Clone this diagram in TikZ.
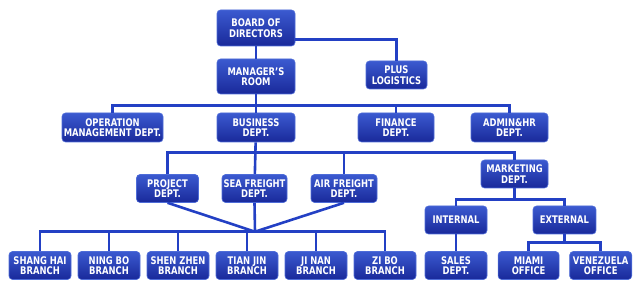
\documentclass[tikz,border=0pt]{standalone}
\usepackage{fontspec}
\setmainfont{DejaVu Sans}[FakeStretch=0.8]
\usetikzlibrary{positioning}
\definecolor{boxtop}{HTML}{3B5AD0}
\definecolor{boxbot}{HTML}{19299A}
\definecolor{boxedge}{HTML}{4E6CD8}
\definecolor{wire}{HTML}{2340C4}
\begin{document}
\begin{tikzpicture}[x=1pt, y=-1pt,
  unit/.style={draw=boxedge, line width=0.6pt, rounded corners=3.5pt, top color=boxtop, bottom color=boxbot,
    text=white, font=\fontsize{10.5}{10.5}\selectfont\bfseries, align=center, inner sep=0.5pt,
    minimum height=28pt, minimum width=62pt},
  ln/.style={draw=wire, line width=2.6pt}
]
\useasboundingbox (0,0) rectangle (640,288);
\node[unit, minimum width=78pt, minimum height=36pt] (board) at (256,28) {BOARD OF\\DIRECTORS};
\node[unit, minimum width=78pt, minimum height=35pt] (mgr) at (256,76.5) {MANAGER'S\\ROOM};
\node[unit, minimum width=61pt] (plus) at (396.5,75) {PLUS\\LOGISTICS};
\node[unit, minimum width=101pt, minimum height=29pt] (oper) at (112.5,127.5) {OPERATION\\MANAGEMENT DEPT.};
\node[unit, minimum width=78pt, minimum height=29pt] (biz) at (256,127.5) {BUSINESS\\DEPT.};
\node[unit, minimum width=76pt, minimum height=29pt] (fin) at (396,127.5) {FINANCE\\DEPT.};
\node[unit, minimum width=77pt, minimum height=29pt] (admin) at (509.5,127.5) {ADMIN\&HR\\DEPT.};
\node[unit] (proj) at (167.5,188.5) {PROJECT\\DEPT.};
\node[unit, minimum width=65pt] (sea) at (254.5,188.5) {SEA FREIGHT\\DEPT.};
\node[unit, minimum width=66pt] (air) at (344,188.5) {AIR FREIGHT\\DEPT.};
\node[unit, minimum width=67pt] (mkt) at (514.5,174) {MARKETING\\DEPT.};
\node[unit] (int) at (456,220) {INTERNAL};
\node[unit, minimum width=63pt] (ext) at (564.5,220) {EXTERNAL};
\node[unit] (shanghai) at (40,265.5) {SHANG HAI\\BRANCH};
\node[unit, right=6.4pt of shanghai] (ningbo) {NING BO\\BRANCH};
\node[unit, right=6.4pt of ningbo] (shenzhen) {SHEN ZHEN\\BRANCH};
\node[unit, right=6.4pt of shenzhen] (tianjin) {TIAN JIN\\BRANCH};
\node[unit, right=6.4pt of tianjin] (jinan) {JI NAN\\BRANCH};
\node[unit, right=6.4pt of jinan] (zibo) {ZI BO\\BRANCH};
\node[unit] (sales) at (456,265.5) {SALES\\DEPT.};
\node[unit, minimum width=61pt, right=10.5pt of sales] (miami) {MIAMI\\OFFICE};
\node[unit, right=10pt of miami] (venez) {VENEZUELA\\OFFICE};

\coordinate (bus1) at (256,105.3);
\coordinate (bus2) at (256,152.7);
\coordinate (hub) at (255,231.7);
\coordinate (bus3) at (516,199.3);
\coordinate (bus4) at (565,242.7);

\draw[ln] (board) -- (mgr);
\draw[ln] ([yshift=7pt]board.south east) -| (plus.north);
\draw[ln] (mgr) -- (biz);
\draw[ln] (oper.north) |- (bus1) -| (admin.north);
\draw[ln] (fin.north) -- (fin.north |- bus1);
\draw[ln] (biz) -- (sea);
\draw[ln] (proj.north) |- (bus2) -| (mkt.north);
\draw[ln] (air.north) -- (air.north |- bus2);
\draw[ln] (proj.south) -- (hub);
\draw[ln] (sea.south) -- (hub);
\draw[ln] (air.south) -- (hub);
\draw[ln] (shanghai.north) |- (hub) -| (zibo.north);
\foreach \b in {ningbo,shenzhen,tianjin,jinan}
  \draw[ln] (\b.north) -- (\b.north |- hub);
\draw[ln] (mkt.south) -- (mkt.south |- bus3);
\draw[ln] (int.north) |- (bus3) -| (ext.north);
\draw[ln] (int) -- (sales);
\draw[ln] (ext.south) -- (ext.south |- bus4);
\draw[ln] (miami.north) |- (bus4) -| (venez.north);
\end{tikzpicture}
\end{document}
